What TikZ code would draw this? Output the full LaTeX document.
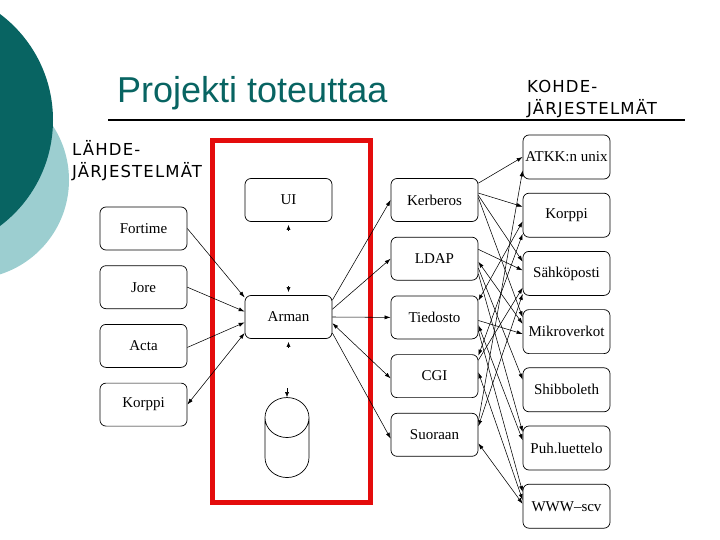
\documentclass[tikz,border=0pt]{standalone}
\usepackage{fontspec}
\setmainfont{Liberation Serif}
\newfontfamily\titlefont{Liberation Sans}
\newfontfamily\headfont[LetterSpace=7]{DejaVu Sans}
\usepackage{tikz}
\usetikzlibrary{arrows.meta,positioning,shapes.geometric}
\definecolor{slidedark}{RGB}{8,100,98}
\definecolor{slidelight}{RGB}{156,206,208}
\definecolor{framered}{RGB}{228,12,12}

\begin{document}
\begin{tikzpicture}[x=1pt, y=-1pt,
  box/.style={draw, rounded corners=6pt, minimum width=87pt, minimum height=43pt, inner sep=2pt, line width=0.7pt, font=\fontsize{15}{17}\selectfont},
  ar/.style={-{Latex[length=6pt,width=4pt]}, line width=0.55pt},
  bi/.style={{Latex[length=6pt,width=4pt]}-{Latex[length=6pt,width=4pt]}, line width=0.55pt},
  stub/.style={-{Latex[length=5pt,width=4pt]}, line width=0.55pt},
  head/.style={anchor=north west, align=left, inner sep=0pt, font=\headfont\fontsize{16.5}{22}\selectfont}
]
\useasboundingbox (0,0) rectangle (720,540);
\clip (0,0) rectangle (720,540);
% slide background
\fill[slidelight] (-30,180) circle[radius=99pt];
\fill[slidedark] (-79.5,120) circle[radius=132.5pt];
\node[anchor=base west, inner sep=0pt, text=slidedark, font=\titlefont\fontsize{36}{40}\selectfont] (title) at (117,103) {Projekti toteuttaa};
\draw[line width=2.2pt] (108,120) -- (685,120);
\node[head] (src) at (72,140) {LÄHDE-\\JÄRJESTELMÄT};
\node[head] (dst) at (527,80) {KOHDE-\\JÄRJESTELMÄT};
\draw[framered, line width=5pt] (212.5,140.5) rectangle (370.5,502.5);

% sources
\node[box] (fortime) at (143.5,228.5) {Fortime};
\node[box, below=15pt of fortime] (jore) {Jore};
\node[box, below=15pt of jore] (acta) {Acta};
\node[box, below=15pt of acta] (korppiL) {Korppi};

% the project
\node[box] (ui) at (288.5,200) {UI};
\node[box] (arman) at (288.5,317) {Arman};
\node[draw, line width=0.7pt, cylinder, shape border rotate=90, aspect=6, minimum width=44pt, minimum height=80pt] (db) at (287,453) {};

% channels
\node[box] (kerberos) at (434.5,200) {Kerberos};
\node[box, below=15pt of kerberos] (ldap) {LDAP};
\node[box, below=15pt of ldap] (tiedosto) {Tiedosto};
\node[box, below=15pt of tiedosto] (cgi) {CGI};
\node[box, below=15pt of cgi] (suoraan) {Suoraan};

% targets
\node[box, minimum height=44pt] (atkk) at (566.5,157) {ATKK:n unix};
\node[box, minimum height=44pt, below=13.5pt of atkk] (korppiR) {Korppi};
\node[box, minimum height=44pt, below=13.5pt of korppiR] (sahko) {Sähköposti};
\node[box, minimum height=44pt, below=13.5pt of sahko] (mikro) {Mikroverkot};
\node[box, minimum height=44pt, below=13.5pt of mikro] (shib) {Shibboleth};
\node[box, minimum height=44pt, below=13.5pt of shib] (puh) {Puh.luettelo};
\node[box, minimum height=44pt, below=13.5pt of puh] (www) {WWW–scv};

\draw[ar] (fortime.0) -- (arman.156);
\draw[ar] (jore.0) -- (arman.173);
\draw[ar] (acta.-2) -- (arman.187);
\draw[bi] (korppiL.0) -- (arman.200);
\draw[stub] ([yshift=-8pt]ui.south) -- ([yshift=-3pt]ui.south);
\draw[stub] ([yshift=9pt]arman.north) -- ([yshift=3pt]arman.north);
\draw[stub] ([yshift=-8pt]arman.south) -- ([yshift=-3pt]arman.south);
\draw[stub] ([yshift=9pt]db.north) -- (db.north);

\draw[ar] (arman.21) -- (kerberos.180);
\draw[ar] (arman.10) -- (ldap.180);
\draw[ar] (arman.0) -- (tiedosto.180);
\draw[bi] (arman.-8) -- (cgi.183);
\draw[ar] (arman.-20) -- (suoraan.185);

\draw[ar] (kerberos.21) -- (atkk.180);
\draw[ar] (kerberos.9) -- (korppiR.169);
\draw[ar] (kerberos.6) -- (sahko.165);
\draw[ar] (kerberos.3) -- (mikro.162);
\draw[ar] (ldap.12) -- (sahko.176);
\draw[bi] (ldap.-4) -- (mikro.170);
\draw[ar] (ldap.-12) -- (shib.167);
\draw[ar] (ldap.-19) -- (puh.160);
\draw[bi] (tiedosto.21) -- (korppiR.188);
\draw[ar] (tiedosto.-4) -- (mikro.183);
\draw[bi] (tiedosto.-10) -- (puh.170);
\draw[ar] (tiedosto.-17) -- (www.162);
\draw[bi] (cgi.25) -- (korppiR.203);
\draw[ar] (cgi.20) -- (sahko.198);
\draw[bi] (cgi.5) -- (www.172);
\draw[ar] (suoraan.17) -- (atkk.197);
\draw[bi] (suoraan.11) -- (sahko.205);
\draw[bi] (suoraan.-11) -- (www.177);
\end{tikzpicture}
\end{document}
